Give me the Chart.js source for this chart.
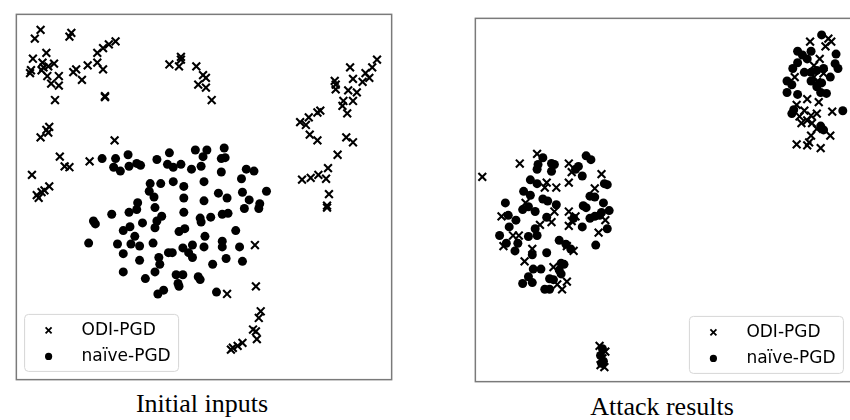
<!DOCTYPE html>
<html>
<head>
<meta charset="utf-8">
<script src="https://cdn.jsdelivr.net/npm/chart.js@4/dist/chart.umd.min.js"></script>
<style>
  body { margin: 0; width: 850px; height: 420px; overflow: hidden; background: #fff; position: relative; }
  canvas { position: absolute; }
  .caption { position: absolute; font-family: "Liberation Serif", serif; font-size: 26px; line-height: 26px; text-align: center; color: #000; white-space: nowrap; }
</style>
</head>
<body>
<canvas id="initialChart" width="392" height="382" style="left:8px; top:6px;"></canvas>
<canvas id="attackChart" width="393" height="380" style="left:467px; top:10px;"></canvas>
<div class="caption" id="cap1" style="left:0px; width:404px; top:391px;"></div>
<div class="caption" id="cap2" style="left:462px; width:400px; top:394px;"></div>
<script>
// Series names and panel captions
const seriesLabels = ["ODI-PGD", "naïve-PGD"];
const captions = ["Initial inputs", "Attack results"];

// Embedding coordinates, Initial inputs panel
const initialOdi = [
  [26,365],[20,356],[58,362],[56,358],[32,341],[18,335],[28,331],[29,326],[34,327],[40,330],
  [15,320],[16,323],[27,323],[33,317],[45,317],[37,309],[45,307],[41,292],[60,321],[63,324],
  [69,313],[75,328],[85,341],[91,346],[97,350],[104,353],[85,331],[91,324],[93,295],[93,296],
  [35,264],[32,261],[26,253],[103,250],[160,329],[170,327],[172,337],[172,334],[188,327],[195,318],
  [198,315],[190,308],[198,305],[204,292],[348,326],[376,334],[371,326],[364,320],[351,314],[361,311],
  [368,315],[332,312],[333,308],[333,303],[346,302],[355,300],[351,291],[341,291],[340,286],[345,278],
  [317,281],[314,279],[305,274],[296,269],[302,266],[306,256],[314,250],[344,253],[351,248],[335,235],
  [325,221],[298,209],[307,211],[315,214],[323,210],[326,194],[324,182],[324,180],[249,141],[220,90],
  [250,98],[255,72],[253,65],[247,53],[250,51],[251,43],[236,39],[231,36],[226,34],[224,32],
  [34,258],[46,233],[51,223],[56,222],[17,214],[77,228],[35,202],[30,198],[27,196],[22,193],[24,190]
];
const initialNaive = [
  [90,231],[104,231],[117,235],[102,222],[109,218],[118,223],[126,226],[130,224],[147,230],[160,237],
  [158,225],[164,222],[172,225],[183,220],[187,240],[199,240],[195,233],[193,223],[217,242],[214,231],
  [218,232],[214,217],[240,220],[248,218],[235,210],[140,205],[151,205],[164,207],[175,202],[196,207],
  [139,197],[144,191],[175,190],[196,187],[127,185],[145,180],[118,175],[126,178],[100,173],[81,166],
  [83,163],[175,175],[152,171],[147,166],[132,164],[119,160],[112,156],[145,159],[192,169],[193,165],
  [170,155],[176,158],[124,150],[120,142],[106,142],[129,140],[143,143],[76,143],[112,132],[129,125],
  [149,128],[150,121],[159,133],[163,133],[174,138],[184,141],[196,139],[180,133],[184,128],[261,197],
  [211,195],[220,190],[236,196],[243,188],[254,184],[253,179],[238,179],[203,170],[215,173],[221,174],
  [229,156],[197,150],[215,145],[215,139],[233,139],[219,127],[205,121],[236,124],[190,108],[192,105],
  [209,92],[112,113],[135,106],[145,113],[167,110],[174,110],[169,101],[170,98],[148,90],[154,94]
];

// Embedding coordinates, Attack results panel
const attackOdi = [
  [8,214],[47,228],[65,238],[98,228],[101,219],[98,208],[132,217],[125,202],[75,208],[73,203],
  [85,203],[53,187],[28,173],[83,178],[98,178],[105,173],[101,168],[98,163],[80,167],[68,164],
  [136,169],[129,156],[46,153],[40,153],[30,142],[103,137],[96,142],[60,139],[52,126],[82,120],
  [96,105],[91,97],[86,102],[130,38],[136,32],[133,25],[131,18],[135,16],
  [349,355],[365,350],[368,358],[371,355],[359,337],[353,330],[363,322],[333,318],[353,318],[356,313],
  [346,295],[358,292],[335,289],[343,283],[338,277],[350,278],[356,280],[346,273],[340,270],[351,270],
  [356,264],[370,257],[350,257],[348,250],[335,248],[346,247],[360,244],[372,282]
];
const attackNaive = [
  [71,234],[66,227],[65,222],[80,228],[83,227],[80,220],[116,236],[121,232],[108,225],[105,222],
  [112,215],[58,211],[65,207],[135,207],[138,206],[51,199],[58,195],[71,191],[76,189],[85,185],
  [120,194],[125,193],[32,187],[50,180],[56,183],[113,184],[116,182],[134,187],[140,179],[132,177],
  [125,173],[120,171],[130,174],[35,174],[43,169],[63,178],[75,172],[103,171],[36,162],[63,160],
  [112,162],[26,153],[56,152],[65,153],[138,160],[33,145],[45,145],[88,148],[95,144],[100,139],
  [42,137],[60,133],[75,135],[126,143],[90,124],[93,123],[61,118],[69,118],[88,117],[90,113],
  [56,110],[78,108],[50,103],[60,104],[73,97],[78,97],[82,107],
  [133,35],[131,28],[134,22],[132,20],
  [361,362],[336,345],[341,341],[350,345],[346,337],[376,342],[375,332],[378,327],[331,327],[336,333],
  [356,325],[350,323],[343,323],[363,327],[370,318],[325,314],[330,310],[325,302],[350,314],[361,312],
  [360,302],[366,301],[336,300],[330,280],[332,284],[360,267],[363,263],[383,283],[356,308]
];

const toPoints = (arr) => arr.map(([x, y]) => ({ x: x, y: y }));

// frame around the plot area, like matplotlib spines
const framePlugin = {
  id: "frame",
  afterDatasetsDraw(chart) {
    const { ctx, chartArea: a } = chart;
    ctx.save();
    ctx.strokeStyle = "#7a7a7a";
    ctx.lineWidth = 1.5;
    ctx.strokeRect(a.left + 0.75, a.top + 0.75, a.right - a.left - 1.5, a.bottom - a.top - 1.5);
    ctx.restore();
  },
};

// boxed legend sitting inside the plot area
const boxLegendPlugin = {
  id: "boxLegend",
  afterDraw(chart, args, opts) {
    const { ctx, chartArea: a } = chart;
    const w = 154, h = 57, r = 4;
    const x0 = opts.align === "right" ? a.right - 9 - w : a.left + 9;
    const y0 = a.bottom - 9 - h;
    ctx.save();
    ctx.beginPath();
    ctx.moveTo(x0 + r, y0);
    ctx.arcTo(x0 + w, y0, x0 + w, y0 + h, r);
    ctx.arcTo(x0 + w, y0 + h, x0, y0 + h, r);
    ctx.arcTo(x0, y0 + h, x0, y0, r);
    ctx.arcTo(x0, y0, x0 + w, y0, r);
    ctx.closePath();
    ctx.fillStyle = "rgba(255,255,255,0.8)";
    ctx.fill();
    ctx.strokeStyle = "#d6d6d6";
    ctx.lineWidth = 1;
    ctx.stroke();

    chart.data.datasets.forEach((ds, i) => {
      const cy = y0 + 16 + i * 26;
      const cx = x0 + 24;
      ctx.fillStyle = "#000";
      ctx.strokeStyle = "#000";
      if (ds.pointStyle === "crossRot") {
        const d = 3;
        ctx.lineWidth = 1.8;
        ctx.beginPath();
        ctx.moveTo(cx - d, cy - d); ctx.lineTo(cx + d, cy + d);
        ctx.moveTo(cx + d, cy - d); ctx.lineTo(cx - d, cy + d);
        ctx.stroke();
      } else {
        ctx.beginPath();
        ctx.arc(cx, cy, 3.6, 0, Math.PI * 2);
        ctx.fill();
      }
      ctx.font = '17px "DejaVu Sans"';
      ctx.textBaseline = "middle";
      ctx.textAlign = "left";
      ctx.fillText(ds.label, x0 + 57, cy);
    });
    ctx.restore();
  },
};

function createScatter(elementId, odi, naive, xMax, yMax, legendAlign) {
  const ctx = document.getElementById(elementId).getContext("2d");
  return new Chart(ctx, {
    type: "scatter",
    data: {
      datasets: [
        {
          label: seriesLabels[0],
          data: toPoints(odi),
          pointStyle: "crossRot",
          pointRadius: 5.5,
          borderWidth: 2.1,
          borderColor: "#000",
          backgroundColor: "#000",
        },
        {
          label: seriesLabels[1],
          data: toPoints(naive),
          pointStyle: "circle",
          pointRadius: 4.5,
          borderWidth: 0,
          backgroundColor: "#000",
        },
      ],
    },
    options: {
      responsive: false,
      animation: false,
      devicePixelRatio: 1,
      layout: { padding: 0 },
      scales: {
        x: { type: "linear", min: 0, max: xMax, display: false },
        y: { type: "linear", min: 0, max: yMax, display: false },
      },
      plugins: {
        legend: { display: false },
        tooltip: { enabled: false },
        boxLegend: { align: legendAlign },
      },
    },
    plugins: [framePlugin, boxLegendPlugin],
  });
}

document.getElementById("cap1").textContent = captions[0];
document.getElementById("cap2").textContent = captions[1];
createScatter("initialChart", initialOdi, initialNaive, 392, 382, "left");
createScatter("attackChart", attackOdi, attackNaive, 393, 380, "right");
</script>
</body>
</html>
